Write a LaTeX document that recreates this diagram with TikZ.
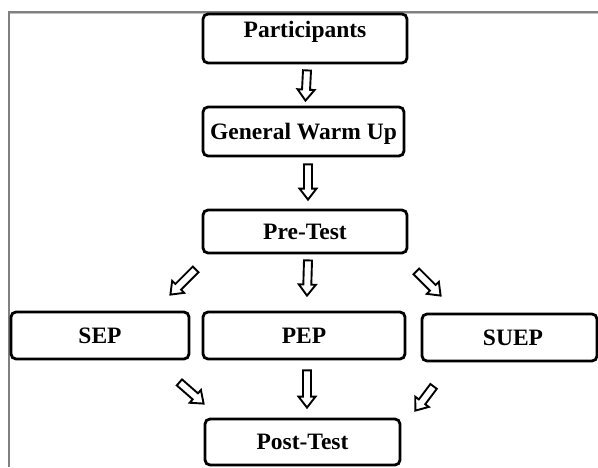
\documentclass[tikz,border=0pt]{standalone}
\usepackage{fontspec}
\setmainfont{Liberation Serif}
\usetikzlibrary{calc}
\tikzset{
  box/.style={draw=black, line width=2.8pt, rounded corners=5pt, inner sep=0pt,
    font=\fontsize{23.5}{25}\selectfont\bfseries, text height=15.5pt, text depth=0pt},
  arrowline/.style={draw=black, line width=1.9pt, line join=miter, fill=white},
  frameline/.style={draw=gray, line width=2pt}
}
\newcommand\hollowarrow[2]{%
  \coordinate (ha) at (#1);
  \coordinate (hb) at (#2);
  \coordinate (hh) at ($(hb)!11pt!(ha)$);
  \draw[arrowline] ($(ha)!4pt!90:(hb)$) -- ($(hh)!4pt!90:(hb)$) -- ($(hh)!8.5pt!90:(hb)$)
    -- (hb) -- ($(hh)!8.5pt!-90:(hb)$) -- ($(hh)!4pt!-90:(hb)$) -- ($(ha)!4pt!-90:(hb)$) -- cycle;}
\begin{document}
\begin{tikzpicture}[x=1pt,y=-1pt]
\useasboundingbox (0,0) rectangle (598,467);
\fill[white] (0,0) rectangle (598,467);
\draw[lightgray, line width=1pt] (9.5,13.5) -- (598,13.5);
\draw[frameline] (8.5,467) -- (8.5,11.5) -- (598,11.5);

\node[box, minimum width=204pt, minimum height=49pt] (part) at (305,38.5) {\raisebox{9pt}{Participants}};
\node[box, minimum width=201pt, minimum height=49pt] (gwu) at (303.5,131.5) {General Warm Up};
\node[box, minimum width=204pt, minimum height=43pt] (pt) at (305,231.5) {Pre-Test};
\node[box, minimum width=178pt, minimum height=47pt] (sep) at (100,335.5) {SEP};
\node[box, minimum width=202pt, minimum height=47pt] (pep) at (304,335.5) {PEP};
\node[box, minimum width=175pt, minimum height=47pt] (suep) at (509.5,337.5) {\hspace*{7pt}SUEP};
\node[box, minimum width=195pt, minimum height=46pt] (post) at (302.5,442) {Post-Test};

% vertical arrows
\hollowarrow{$(part.south)+(2,6)$}{$(gwu.north)+(2,-5)$}
\hollowarrow{$(gwu.south)+(4.5,7)$}{$(pt.north)+(3,-9)$}
\hollowarrow{$(pt.south)+(3,6)$}{$(pep.north)+(3,-15)$}
\hollowarrow{$(pep.south)+(3,10)$}{$(post.north)+(4.5,-10)$}
% diagonal arrows
\coordinate (d1a) at ($(pt.south west)+(-6,15)$);
\coordinate (d1b) at ($(sep.north east)+(-20,-16)$);
\hollowarrow{d1a}{d1b}
\coordinate (d2a) at ($(pt.south east)+(8,17)$);
\coordinate (d2b) at ($(suep.north west)+(20,-17)$);
\hollowarrow{d2a}{d2b}
\coordinate (d3a) at ($(sep.south east)+(-11,22)$);
\coordinate (d3b) at ($(post.north west)+(0,-14)$);
\hollowarrow{d3a}{d3b}
\coordinate (d4a) at ($(suep.south west)+(13,24)$);
\coordinate (d4b) at ($(post.north east)+(14,-7)$);
\hollowarrow{d4a}{d4b}
\end{tikzpicture}
\end{document}
